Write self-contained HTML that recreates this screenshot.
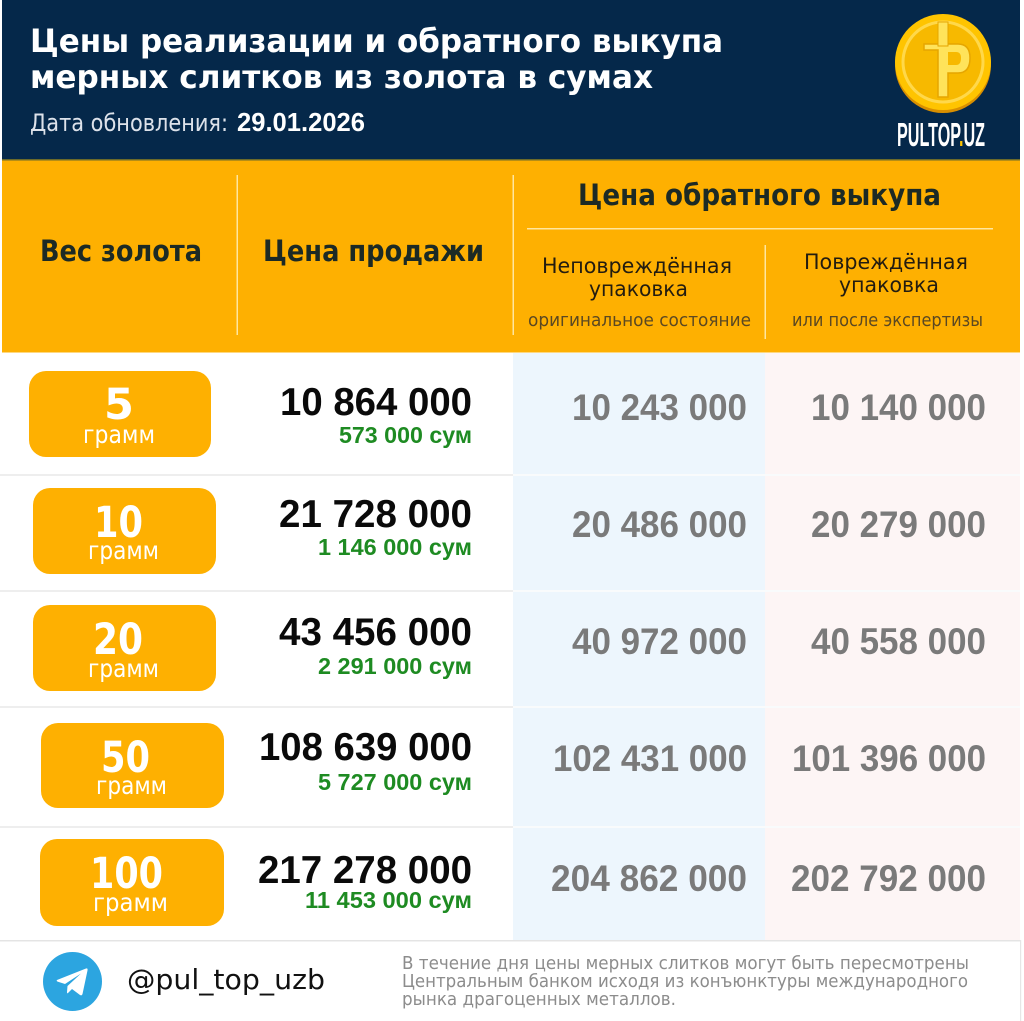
<!DOCTYPE html>
<html><head><meta charset="utf-8">
<style>
html,body{margin:0;padding:0;background:#fff;}
svg{display:block;}
.t{font-family:"DejaVu Sans","Liberation Sans",sans-serif;}
.n{font-family:"Liberation Sans","DejaVu Sans",sans-serif;font-weight:bold;}
</style></head>
<body>
<svg width="1024" height="1021" viewBox="0 0 1024 1021" xmlns="http://www.w3.org/2000/svg">
<rect x="0" y="0" width="1024" height="1021" fill="#ffffff"/>
<rect x="2" y="0" width="1018" height="160" fill="#05284a"/>
<rect x="2" y="159" width="1018" height="1.5" fill="#6b6a2a"/>
<rect x="2" y="160.5" width="1018" height="192" fill="#feb001"/>
<rect x="513" y="353" width="252" height="587" fill="#edf6fd"/>
<rect x="765" y="353" width="255" height="587" fill="#fdf5f5"/>
<g fill="#eeeeee">
<rect x="0" y="474" width="513" height="2"/>
<rect x="0" y="590" width="513" height="2"/>
<rect x="0" y="706" width="513" height="2"/>
<rect x="0" y="826" width="513" height="2"/>
</g>
<g fill="#f9fbfc">
<rect x="513" y="474" width="507" height="2"/>
<rect x="513" y="590" width="507" height="2"/>
<rect x="513" y="706" width="507" height="2"/>
<rect x="513" y="826" width="507" height="2"/>
</g>
<rect x="0" y="940" width="1021" height="1.5" fill="#e4e4e4"/>
<rect x="1020" y="940" width="1.2" height="81" fill="#e6e6e6"/>

<text class="t" x="30" y="52" font-size="32" font-weight="bold" fill="#ffffff" textLength="693" lengthAdjust="spacingAndGlyphs">Цены реализации и обратного выкупа</text>
<text class="t" x="30" y="88" font-size="32" font-weight="bold" fill="#ffffff" textLength="623" lengthAdjust="spacingAndGlyphs">мерных слитков из золота в сумах</text>
<text class="t" x="30" y="131" font-size="24" fill="#dde2ea" textLength="198" lengthAdjust="spacingAndGlyphs">Дата обновления:</text>
<text class="n" x="237" y="131" font-size="26" fill="#ffffff" textLength="128" lengthAdjust="spacingAndGlyphs">29.01.2026</text>

<circle cx="943" cy="65" r="48" fill="#d98f00"/>
<circle cx="943" cy="62" r="48" fill="#ffc400"/>
<circle cx="943" cy="62" r="40" fill="#f7b900" stroke="#ffd84a" stroke-width="3"/>
<path d="M924 44 H958 Q970 44 970 58 Q970 73 958 73 H948 V97 H938 V50 H924 Z" fill="#ffe35a" stroke="#e6a600" stroke-width="1.5"/>
<path d="M948 52 H956 Q961 52 961 58 Q961 65 956 65 H948 Z" fill="#f7b900"/>
<rect x="938" y="22" width="10" height="24" fill="#ffe35a" stroke="#e6a600" stroke-width="1"/>
<text class="n" x="897" y="146" font-size="33" fill="#ffffff" textLength="88" lengthAdjust="spacingAndGlyphs">PULTOP<tspan fill="#ffc400">.</tspan>UZ</text>

<g fill="#ffe6a0">
<rect x="236.5" y="175" width="1.5" height="160"/>
<rect x="512.5" y="175" width="1.5" height="160"/>
<rect x="764.5" y="245" width="1.5" height="94"/>
<rect x="527" y="228" width="466" height="1.5"/>
</g>
<text class="t" x="40" y="261" font-size="29" font-weight="bold" fill="#1c2a25" textLength="162" lengthAdjust="spacingAndGlyphs">Вес золота</text>
<text class="t" x="263" y="261" font-size="29" font-weight="bold" fill="#1c2a25" textLength="221" lengthAdjust="spacingAndGlyphs">Цена продажи</text>
<text class="t" x="578" y="205" font-size="29" font-weight="bold" fill="#1c2a25" textLength="363" lengthAdjust="spacingAndGlyphs">Цена обратного выкупа</text>

<text class="t" x="542" y="273" font-size="21" fill="#231c10" textLength="190" lengthAdjust="spacingAndGlyphs">Неповреждённая</text>
<text class="t" x="589" y="296" font-size="21" fill="#231c10" textLength="99" lengthAdjust="spacingAndGlyphs">упаковка</text>
<text class="t" x="528" y="326" font-size="18" fill="#5b4822" textLength="223" lengthAdjust="spacingAndGlyphs">оригинальное состояние</text>
<text class="t" x="804" y="269" font-size="21" fill="#231c10" textLength="164" lengthAdjust="spacingAndGlyphs">Повреждённая</text>
<text class="t" x="839" y="292" font-size="21" fill="#231c10" textLength="100" lengthAdjust="spacingAndGlyphs">упаковка</text>
<text class="t" x="792" y="326" font-size="18" fill="#5b4822" textLength="191" lengthAdjust="spacingAndGlyphs">или после экспертизы</text>

<g fill="#feb001">
<rect x="29" y="371" width="182" height="86" rx="17"/>
<rect x="33" y="488" width="183" height="86" rx="17"/>
<rect x="33" y="605" width="183" height="86" rx="17"/>
<rect x="41" y="723" width="183" height="85" rx="17"/>
<rect x="40" y="839" width="184" height="87" rx="17"/>
</g>
<g class="t" fill="#ffffff" text-anchor="middle">
<text x="119" y="419" font-size="43" font-weight="bold">5</text>
<text x="119" y="443" font-size="25" textLength="72" lengthAdjust="spacingAndGlyphs">грамм</text>
<text x="118.5" y="537" font-size="43" font-weight="bold" textLength="49" lengthAdjust="spacingAndGlyphs">10</text>
<text x="123.5" y="559" font-size="25" textLength="71" lengthAdjust="spacingAndGlyphs">грамм</text>
<text x="118" y="654" font-size="43" font-weight="bold" textLength="50" lengthAdjust="spacingAndGlyphs">20</text>
<text x="123.5" y="677" font-size="25" textLength="71" lengthAdjust="spacingAndGlyphs">грамм</text>
<text x="125.5" y="772" font-size="43" font-weight="bold" textLength="49" lengthAdjust="spacingAndGlyphs">50</text>
<text x="131.5" y="794" font-size="25" textLength="71" lengthAdjust="spacingAndGlyphs">грамм</text>
<text x="126.5" y="888" font-size="43" font-weight="bold" textLength="73" lengthAdjust="spacingAndGlyphs">100</text>
<text x="130.5" y="911" font-size="25" textLength="75" lengthAdjust="spacingAndGlyphs">грамм</text>
</g>

<g class="n" fill="#0a0a0a" font-size="38.5">
<text x="280" y="415" textLength="192" lengthAdjust="spacingAndGlyphs">10 864 000</text>
<text x="279" y="527" textLength="193" lengthAdjust="spacingAndGlyphs">21 728 000</text>
<text x="279" y="645" textLength="193" lengthAdjust="spacingAndGlyphs">43 456 000</text>
<text x="259" y="760" textLength="213" lengthAdjust="spacingAndGlyphs">108 639 000</text>
<text x="258" y="883" textLength="214" lengthAdjust="spacingAndGlyphs">217 278 000</text>
</g>
<g class="n" fill="#1e8b22" font-size="23">
<text x="339" y="443" textLength="133" lengthAdjust="spacingAndGlyphs">573 000 сум</text>
<text x="318" y="555" textLength="154" lengthAdjust="spacingAndGlyphs">1 146 000 сум</text>
<text x="318" y="674" textLength="154" lengthAdjust="spacingAndGlyphs">2 291 000 сум</text>
<text x="318" y="790" textLength="154" lengthAdjust="spacingAndGlyphs">5 727 000 сум</text>
<text x="305" y="908" textLength="167" lengthAdjust="spacingAndGlyphs">11 453 000 сум</text>
</g>

<g class="n" fill="#7a7a7a" font-size="37">
<text x="572" y="420" textLength="175" lengthAdjust="spacingAndGlyphs">10 243 000</text>
<text x="811" y="420" textLength="175" lengthAdjust="spacingAndGlyphs">10 140 000</text>
<text x="572" y="537" textLength="175" lengthAdjust="spacingAndGlyphs">20 486 000</text>
<text x="811" y="537" textLength="175" lengthAdjust="spacingAndGlyphs">20 279 000</text>
<text x="572" y="654" textLength="175" lengthAdjust="spacingAndGlyphs">40 972 000</text>
<text x="811" y="654" textLength="175" lengthAdjust="spacingAndGlyphs">40 558 000</text>
<text x="553" y="771" textLength="194" lengthAdjust="spacingAndGlyphs">102 431 000</text>
<text x="792" y="771" textLength="194" lengthAdjust="spacingAndGlyphs">101 396 000</text>
<text x="551" y="891" textLength="196" lengthAdjust="spacingAndGlyphs">204 862 000</text>
<text x="791" y="891" textLength="195" lengthAdjust="spacingAndGlyphs">202 792 000</text>
</g>

<circle cx="72.5" cy="981.5" r="29.5" fill="#2ca5e0"/>
<path d="M57 980 L86 968.5 Q88 968 87.5 970.5 L82.5 994 Q82 996 80 995 L72 989 L68 993 Q67 994 67 992 L67.5 986 L81 973.5 L65 984 L58 981.8 Q56 981 57 980 Z" fill="#ffffff"/>
<text class="t" x="127" y="989" font-size="28" fill="#111111" textLength="198" lengthAdjust="spacingAndGlyphs">@pul_top_uzb</text>
<g class="t" fill="#8c8c8c" font-size="18">
<text x="402" y="969" textLength="567" lengthAdjust="spacingAndGlyphs">В течение дня цены мерных слитков могут быть пересмотрены</text>
<text x="402" y="987" textLength="566" lengthAdjust="spacingAndGlyphs">Центральным банком исходя из конъюнктуры международного</text>
<text x="402" y="1005" textLength="274" lengthAdjust="spacingAndGlyphs">рынка драгоценных металлов.</text>
</g>
</svg>
</body></html>
